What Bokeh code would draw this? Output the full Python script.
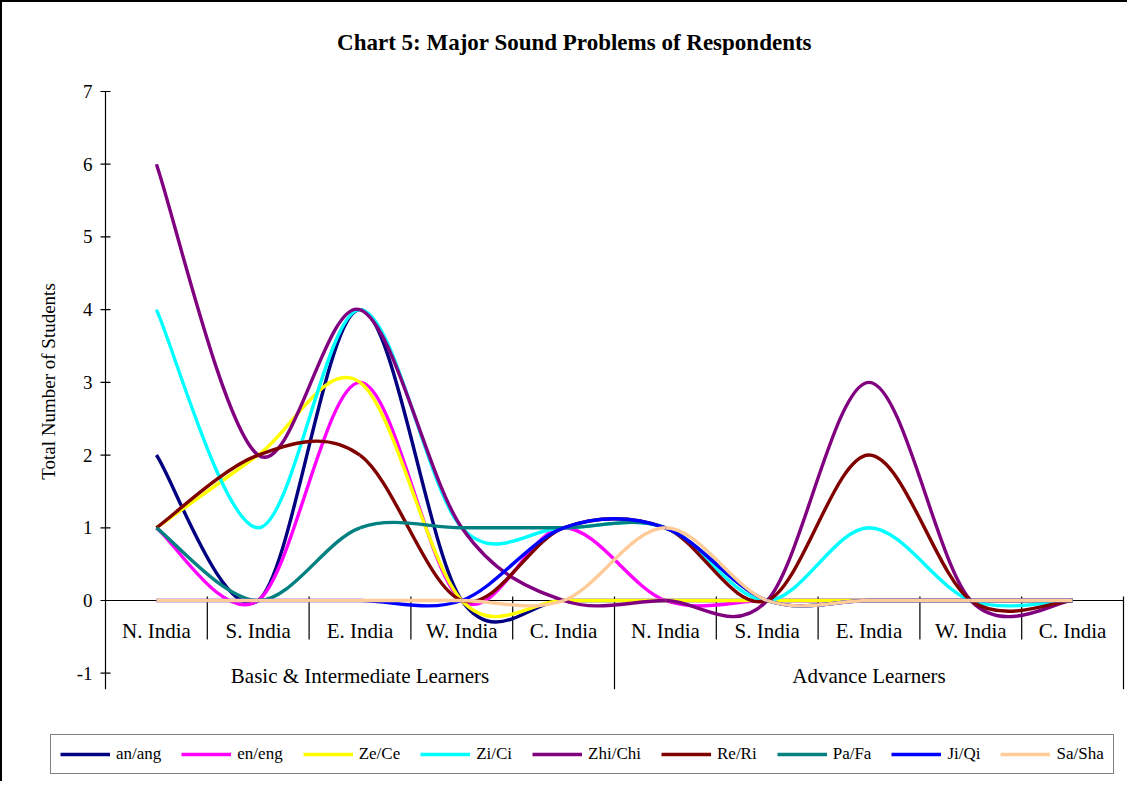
import math
from bokeh.plotting import figure
from bokeh.models import ColumnDataSource, Range1d, Legend, LegendItem
from bokeh.core.properties import value
from bokeh.embed import file_html
from bokeh.resources import INLINE

# ---------------- data ----------------
title_text = "Chart 5: Major Sound Problems of Respondents"
y_label = "Total Number of Students"
regions = ["N. India", "S. India", "E. India", "W. India", "C. India"]
groups = ["Basic & Intermediate Learners", "Advance Learners"]
series_names = ["an/ang", "en/eng", "Ze/Ce", "Zi/Ci", "Zhi/Chi", "Re/Ri", "Pa/Fa", "Ji/Qi", "Sa/Sha"]
an_ang = [2, 0, 4, 0, 0, 0, 0, 0, 0, 0]
en_eng = [1, 0, 3, 0, 1, 0, 0, 0, 0, 0]
ze_ce = [1, 2, 3, 0, 0, 0, 0, 0, 0, 0]
zi_ci = [4, 1, 4, 1, 1, 1, 0, 1, 0, 0]
zhi_chi = [6, 2, 4, 1, 0, 0, 0, 3, 0, 0]
re_ri = [1, 2, 2, 0, 1, 1, 0, 2, 0, 0]
pa_fa = [1, 0, 1, 1, 1, 1, 0, 0, 0, 0]
ji_qi = [0, 0, 0, 0, 1, 1, 0, 0, 0, 0]
sa_sha = [0, 0, 0, 0, 0, 1, 0, 0, 0, 0]
y_ticks = [-1, 0, 1, 2, 3, 4, 5, 6, 7]
series_values = [an_ang, en_eng, ze_ce, zi_ci, zhi_chi, re_ri, pa_fa, ji_qi, sa_sha]
colors = ["#000080", "#FF00FF", "#FFFF00", "#00FFFF", "#800080",
          "#800000", "#008080", "#0000FF", "#FFCC99"]

FONT = "Liberation Serif"
categories = regions * len(groups)
n_cat = len(categories)
centers = [i + 0.5 for i in range(n_cat)]

# ---------------- layout constants (pixels) ----------------
W, H = 1127, 781           # figure size
ORG_X, ORG_Y = 2, 3        # page position of the figure origin (after css border)
X0PX, XPX = 105.0, 101.8   # page x of category boundary 0, px per category
Y0PX, YPX = 601.0, 72.714  # page y of value 0, px per unit
Y_AX_MIN = -1.22           # bottom end of the value axis line


def dx(px):
    return px / XPX


def dy(px):
    return px / YPX


def px_to_x(page_x):
    return (page_x - X0PX) / XPX


def px_to_y(page_y):
    return (Y0PX - page_y) / YPX


def smooth_segments(xs, ys):
    """Excel-like smoothed line: cubic Bezier control points (Catmull-Rom, /6)."""
    n = len(xs)
    d = dict(x0=[], y0=[], x1=[], y1=[], cx0=[], cy0=[], cx1=[], cy1=[])
    for i in range(n - 1):
        im = max(i - 1, 0)
        ip2 = min(i + 2, n - 1)
        d["x0"].append(xs[i]); d["y0"].append(ys[i])
        d["x1"].append(xs[i + 1]); d["y1"].append(ys[i + 1])
        d["cx0"].append(xs[i] + (xs[i + 1] - xs[im]) / 6.0)
        d["cy0"].append(ys[i] + (ys[i + 1] - ys[im]) / 6.0)
        d["cx1"].append(xs[i + 1] - (xs[ip2] - xs[i]) / 6.0)
        d["cy1"].append(ys[i + 1] - (ys[ip2] - ys[i]) / 6.0)
    return d


p = figure(width=W, height=H, output_backend="svg", toolbar_location=None,
           x_range=Range1d(px_to_x(ORG_X), px_to_x(ORG_X + W)),
           y_range=Range1d(px_to_y(ORG_Y + H), px_to_y(ORG_Y)),
           x_axis_type=None, y_axis_type=None,
           min_border=0, min_border_left=0, min_border_right=0,
           min_border_top=0, min_border_bottom=0)
p.outline_line_color = None
p.grid.visible = False
p.background_fill_color = "white"
p.border_fill_color = "white"
p.styles = {"border-top": "2px solid black", "border-left": "2px solid black"}

# title
p.text(x=[px_to_x(574)], y=[px_to_y(43)], text=[title_text], text_align="center",
       text_baseline="middle", text_font=value(FONT), text_font_size="23px",
       text_font_style="bold", text_color="black")

# value axis (left) at x = 0
p.segment(x0=[0], y0=[Y_AX_MIN], x1=[0], y1=[max(y_ticks)], line_color="black", line_width=1.2)
p.segment(x0=[-dx(5)] * len(y_ticks), y0=y_ticks, x1=[dx(5)] * len(y_ticks), y1=y_ticks,
          line_color="black", line_width=1.2)
p.text(x=[-dx(13)] * len(y_ticks), y=y_ticks, text=[str(t) for t in y_ticks],
       text_align="right", text_baseline="middle", text_font=value(FONT),
       text_font_size="19px", text_color="black")
p.text(x=[px_to_x(48)], y=[px_to_y(382)], text=[y_label], angle=math.pi / 2,
       text_align="center", text_baseline="middle", text_font=value(FONT),
       text_font_size="19px", text_color="black")

# category axis (multi-level) drawn at y = 0
p.segment(x0=[0], y0=[0], x1=[n_cat], y1=[0], line_color="black", line_width=1.2)
inner = [i for i in range(1, n_cat) if i % len(regions) != 0]
outer = [i for i in range(1, n_cat + 1) if i % len(regions) == 0]
p.segment(x0=inner, y0=[dy(4)] * len(inner), x1=inner, y1=[-dy(39)] * len(inner),
          line_color="black", line_width=1.2)
p.segment(x0=outer, y0=[dy(4)] * len(outer), x1=outer, y1=[Y_AX_MIN] * len(outer),
          line_color="black", line_width=1.2)
p.text(x=centers, y=[-dy(30)] * n_cat, text=categories, text_align="center",
       text_baseline="middle", text_font=value(FONT), text_font_size="21px",
       text_color="black")
group_centers = [len(regions) * (g + 0.5) for g in range(len(groups))]
p.text(x=group_centers, y=[-dy(75)] * len(groups), text=groups, text_align="center",
       text_baseline="middle", text_font=value(FONT), text_font_size="21px",
       text_color="black")

# series
items = []
for name, vals, col in zip(series_names, series_values, colors):
    src = ColumnDataSource(smooth_segments(centers, vals))
    r = p.bezier(x0="x0", y0="y0", x1="x1", y1="y1", cx0="cx0", cy0="cy0",
                 cx1="cx1", cy1="cy1", source=src, line_color=col, line_width=3.4)
    items.append(LegendItem(label=name, renderers=[r]))

legend = Legend(items=items, orientation="horizontal", location=(48, 9),
                label_text_font=FONT, label_text_font_size="17px",
                label_text_color="black",
                glyph_width=50, glyph_height=20, label_standoff=6, spacing=20,
                padding=9, margin=0, border_line_color="black", border_line_width=1.2,
                background_fill_color="white", background_fill_alpha=1.0)
p.add_layout(legend, "center")

open("out.html", "w").write(file_html(p, INLINE))
